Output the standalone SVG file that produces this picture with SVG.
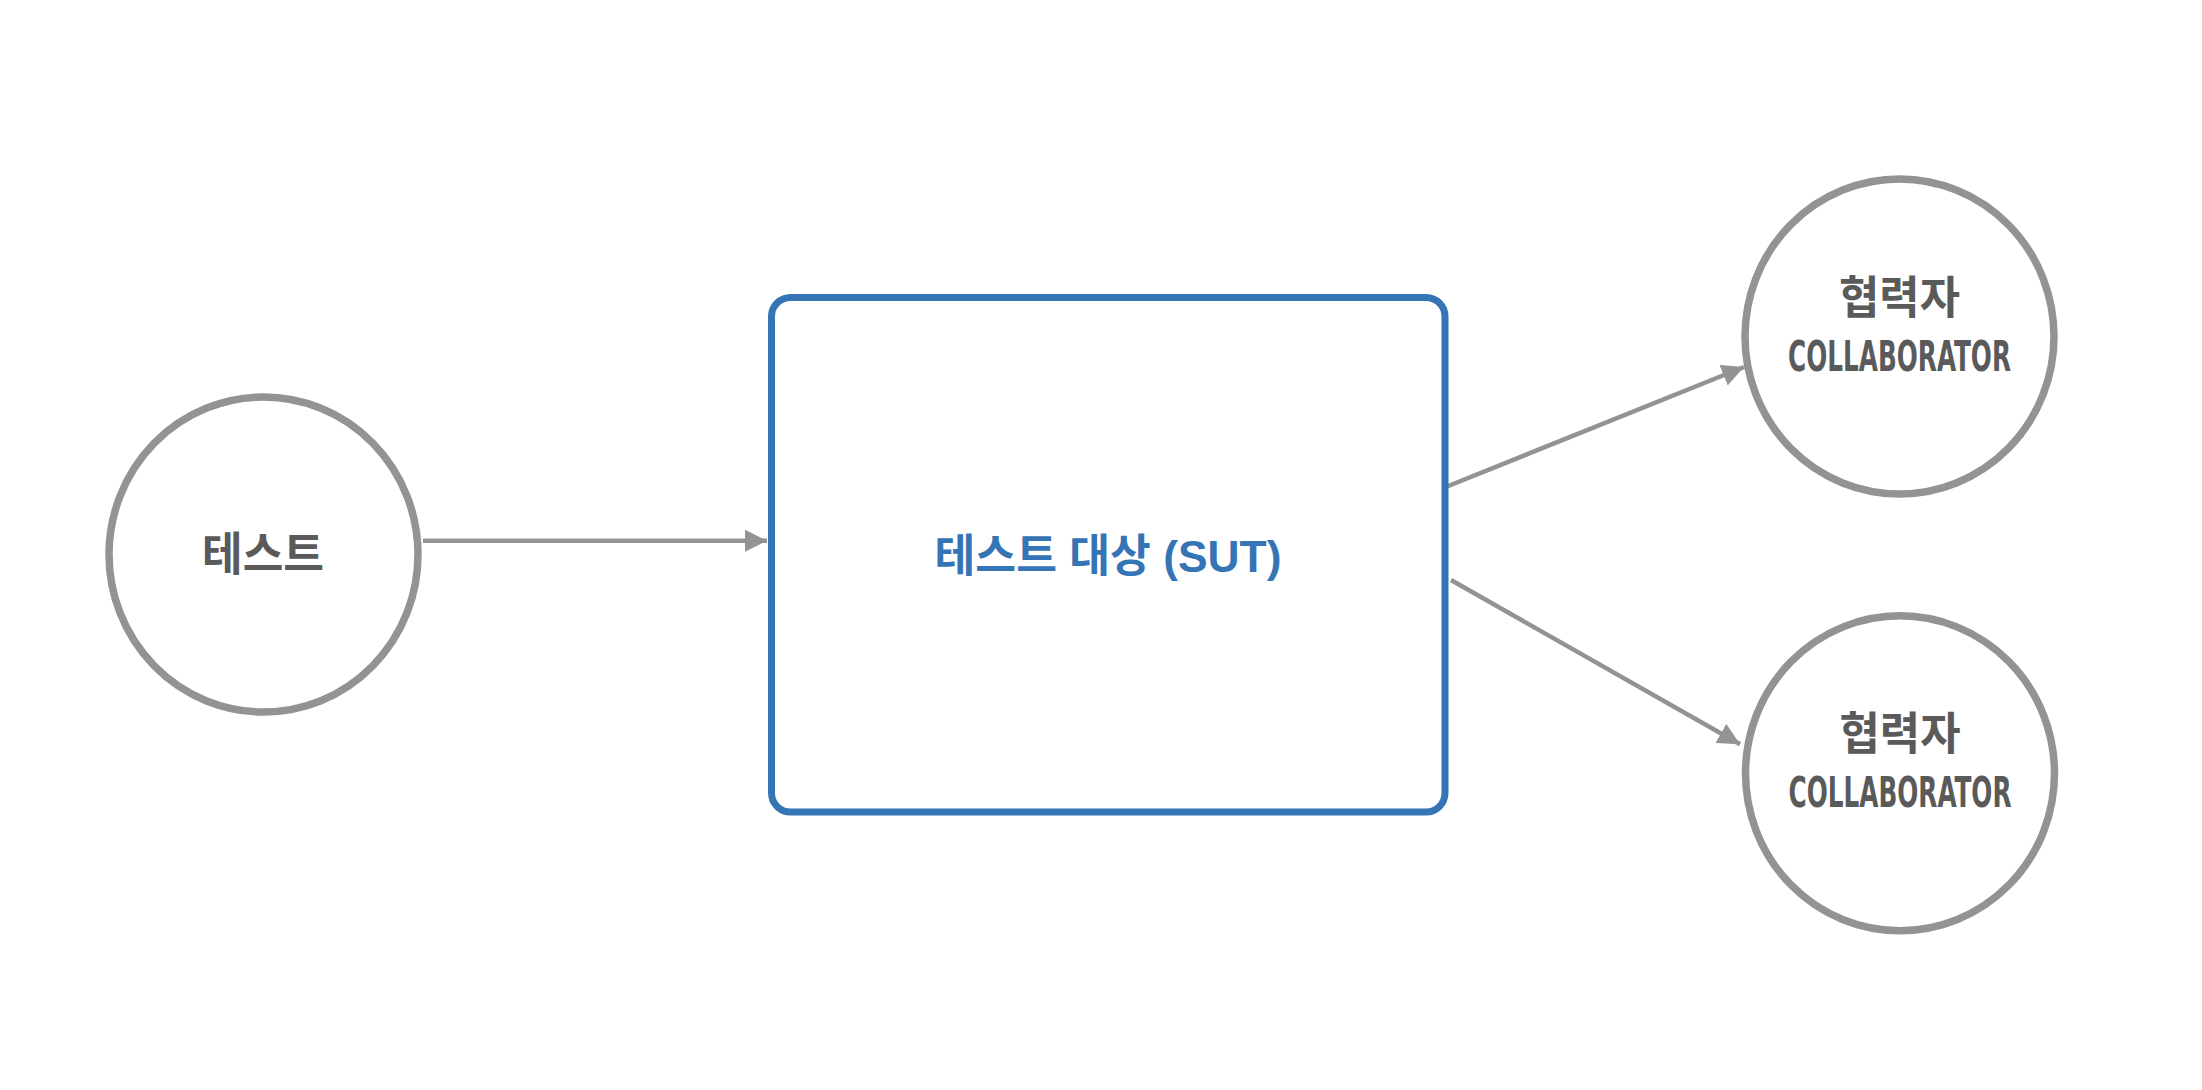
<svg xmlns="http://www.w3.org/2000/svg" width="2202" height="1090" viewBox="0 0 2202 1090">
  <style>
    .node-circle { fill: #ffffff; stroke: #939393; stroke-width: 7.5; }
    .node-rect { fill: #ffffff; stroke: #3574b5; stroke-width: 7; }
    .conn { stroke: #939393; stroke-width: 4.5; fill: none; marker-end: url(#arrow); }
    .ko-gray { font-family: "Noto Sans CJK KR", "Liberation Sans", sans-serif; font-weight: bold; fill: #5a5a5a; text-anchor: middle; }
    .en-gray { font-family: "DejaVu Sans", "Liberation Sans", sans-serif; font-stretch: condensed; font-weight: bold; fill: #5a5a5a; text-anchor: middle; }
    .title-blue { font-family: "Liberation Sans", "Noto Sans CJK KR", sans-serif; font-weight: bold; fill: #3574b5; text-anchor: middle; }
  </style>
  <defs>
    <marker id="arrow" markerUnits="userSpaceOnUse" markerWidth="22" markerHeight="22" refX="22" refY="11" orient="auto" viewBox="0 0 22 22">
      <path d="M0,0 L22,11 L0,22 Z" fill="#939393"/>
    </marker>
  </defs>
  <rect x="0" y="0" width="2202" height="1090" fill="#ffffff"/>

  <g id="connectors">
    <line class="conn" x1="423" y1="540.7" x2="767" y2="540.7"/>
    <line class="conn" x1="1447" y1="486.5" x2="1744" y2="367"/>
    <line class="conn" x1="1451" y1="580" x2="1740" y2="744.3"/>
  </g>

  <g id="node-test">
    <ellipse class="node-circle" cx="263.5" cy="554.5" rx="154.5" ry="157.5"/>
    <text class="ko-gray" x="263" y="570" font-size="46" textLength="122" lengthAdjust="spacingAndGlyphs">테스트</text>
  </g>

  <g id="node-sut">
    <rect class="node-rect" x="771.5" y="297.5" width="673.5" height="514.5" rx="19" ry="19"/>
    <text class="title-blue" x="1108" y="572" font-size="45" textLength="347" lengthAdjust="spacingAndGlyphs">테스트 대상 (SUT)</text>
  </g>

  <g id="node-collaborator-1">
    <ellipse class="node-circle" cx="1899.5" cy="336.5" rx="154.5" ry="157.5"/>
    <text class="ko-gray" x="1899.5" y="313.5" font-size="45" textLength="121" lengthAdjust="spacingAndGlyphs">협력자</text>
    <text class="en-gray" x="1899.5" y="370.7" font-size="42" textLength="223" lengthAdjust="spacingAndGlyphs">COLLABORATOR</text>
  </g>

  <g id="node-collaborator-2">
    <ellipse class="node-circle" cx="1900" cy="773.3" rx="154.5" ry="157.5"/>
    <text class="ko-gray" x="1900" y="750.3" font-size="45" textLength="121" lengthAdjust="spacingAndGlyphs">협력자</text>
    <text class="en-gray" x="1900" y="807.3" font-size="42" textLength="223" lengthAdjust="spacingAndGlyphs">COLLABORATOR</text>
  </g>
</svg>
